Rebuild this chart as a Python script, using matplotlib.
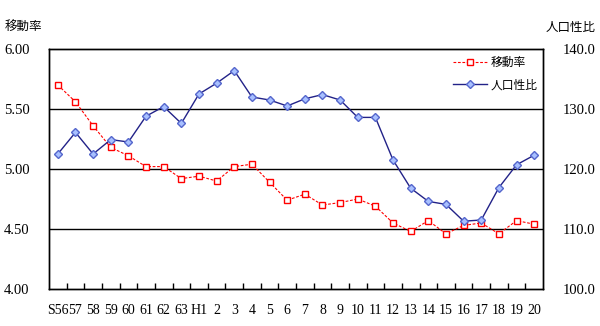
import matplotlib
matplotlib.use("Agg")
import matplotlib.pyplot as plt
import numpy as np

# data
years = ["S56", "57", "58", "59", "60", "61", "62", "63", "H1", "2", "3", "4", "5", "6",
         "7", "8", "9", "10", "11", "12", "13", "14", "15", "16", "17", "18", "19", "20"]
idou_ritsu = [5.70, 5.56, 5.36, 5.18, 5.11, 5.02, 5.02, 4.92, 4.94, 4.90, 5.02, 5.04, 4.89, 4.74,
              4.79, 4.70, 4.72, 4.75, 4.69, 4.55, 4.48, 4.57, 4.46, 4.53, 4.55, 4.46, 4.57, 4.54]
seihi = [122.5, 126.1, 122.5, 124.9, 124.5, 128.8, 130.4, 127.6, 132.5, 134.3, 136.4, 132.0, 131.5, 130.5,
         131.7, 132.4, 131.5, 128.6, 128.6, 121.5, 116.8, 114.6, 114.1, 111.3, 111.5, 116.9, 120.7, 122.3]
left_ticks = [4.0, 4.5, 5.0, 5.5, 6.0]
right_ticks = [100, 110, 120, 130, 140]

serif = "Liberation Serif"
cjk = ["Noto Sans CJK JP", "DejaVu Sans"]

fig = plt.figure(figsize=(6, 3.26), dpi=100)
ax1 = fig.add_axes([49 / 600, 37 / 326, 494 / 600, 240 / 326])
ax2 = ax1.twinx()

x = np.arange(len(years))

for g in [4.5, 5.0, 5.5]:
    ax1.axhline(g, color="black", lw=1, zorder=1)

l1, = ax1.plot(x, idou_ritsu, color="red", lw=0.8, ls=(0, (2.5, 1.5)), marker="s", ms=4.5,
               mfc="white", mec="red", mew=1, label="移動率", zorder=3)
l2, = ax2.plot(x, seihi, color="#222288", lw=1, marker="D", ms=4.2,
               mfc="#a8c0ff", mec="#5566cc", mew=1, label="人口性比", zorder=3)

ax1.set_xlim(-0.5, len(years) - 0.5)
ax1.set_ylim(4.0, 6.0)
ax2.set_ylim(100, 140)

ax1.set_xticks(x)
ax1.set_xticklabels(years, fontfamily=serif, fontsize=10)
ax1.set_xticks(np.arange(0.5, len(years) - 1, 1), minor=True)
ax1.tick_params(axis="x", which="major", length=0, pad=11)
ax1.tick_params(axis="x", which="minor", direction="in", length=4, width=1)

ax1.set_yticks(left_ticks)
ax1.set_yticklabels([f"{v:.2f}" for v in left_ticks], fontfamily=serif, fontsize=10.5)
ax1.tick_params(axis="y", length=0, pad=14)
ax2.set_yticks(right_ticks)
ax2.set_yticklabels([f"{v:.1f}" for v in right_ticks], fontfamily=serif, fontsize=10.5)
ax2.tick_params(axis="y", length=0, pad=14)

for ax in (ax1, ax2):
    for s in ax.spines.values():
        s.set_color("black")
        s.set_linewidth(1)

fig.text(5 / 600, 1 - 27 / 326, "移動率", family=cjk, fontsize=9, va="center", ha="left")
fig.text(596 / 600, 1 - 28 / 326, "人口性比", family=cjk, fontsize=9, va="center", ha="right")

ax2.legend(handles=[l1, l2], loc="upper right", frameon=False, prop={"family": cjk, "size": 8.5},
           handlelength=2.9, handletextpad=0.35, labelspacing=0.8, borderpad=0, borderaxespad=0,
           bbox_to_anchor=(538 / 600, 1 - 56 / 326), bbox_transform=fig.transFigure)

fig.savefig("out.png", dpi=100)
